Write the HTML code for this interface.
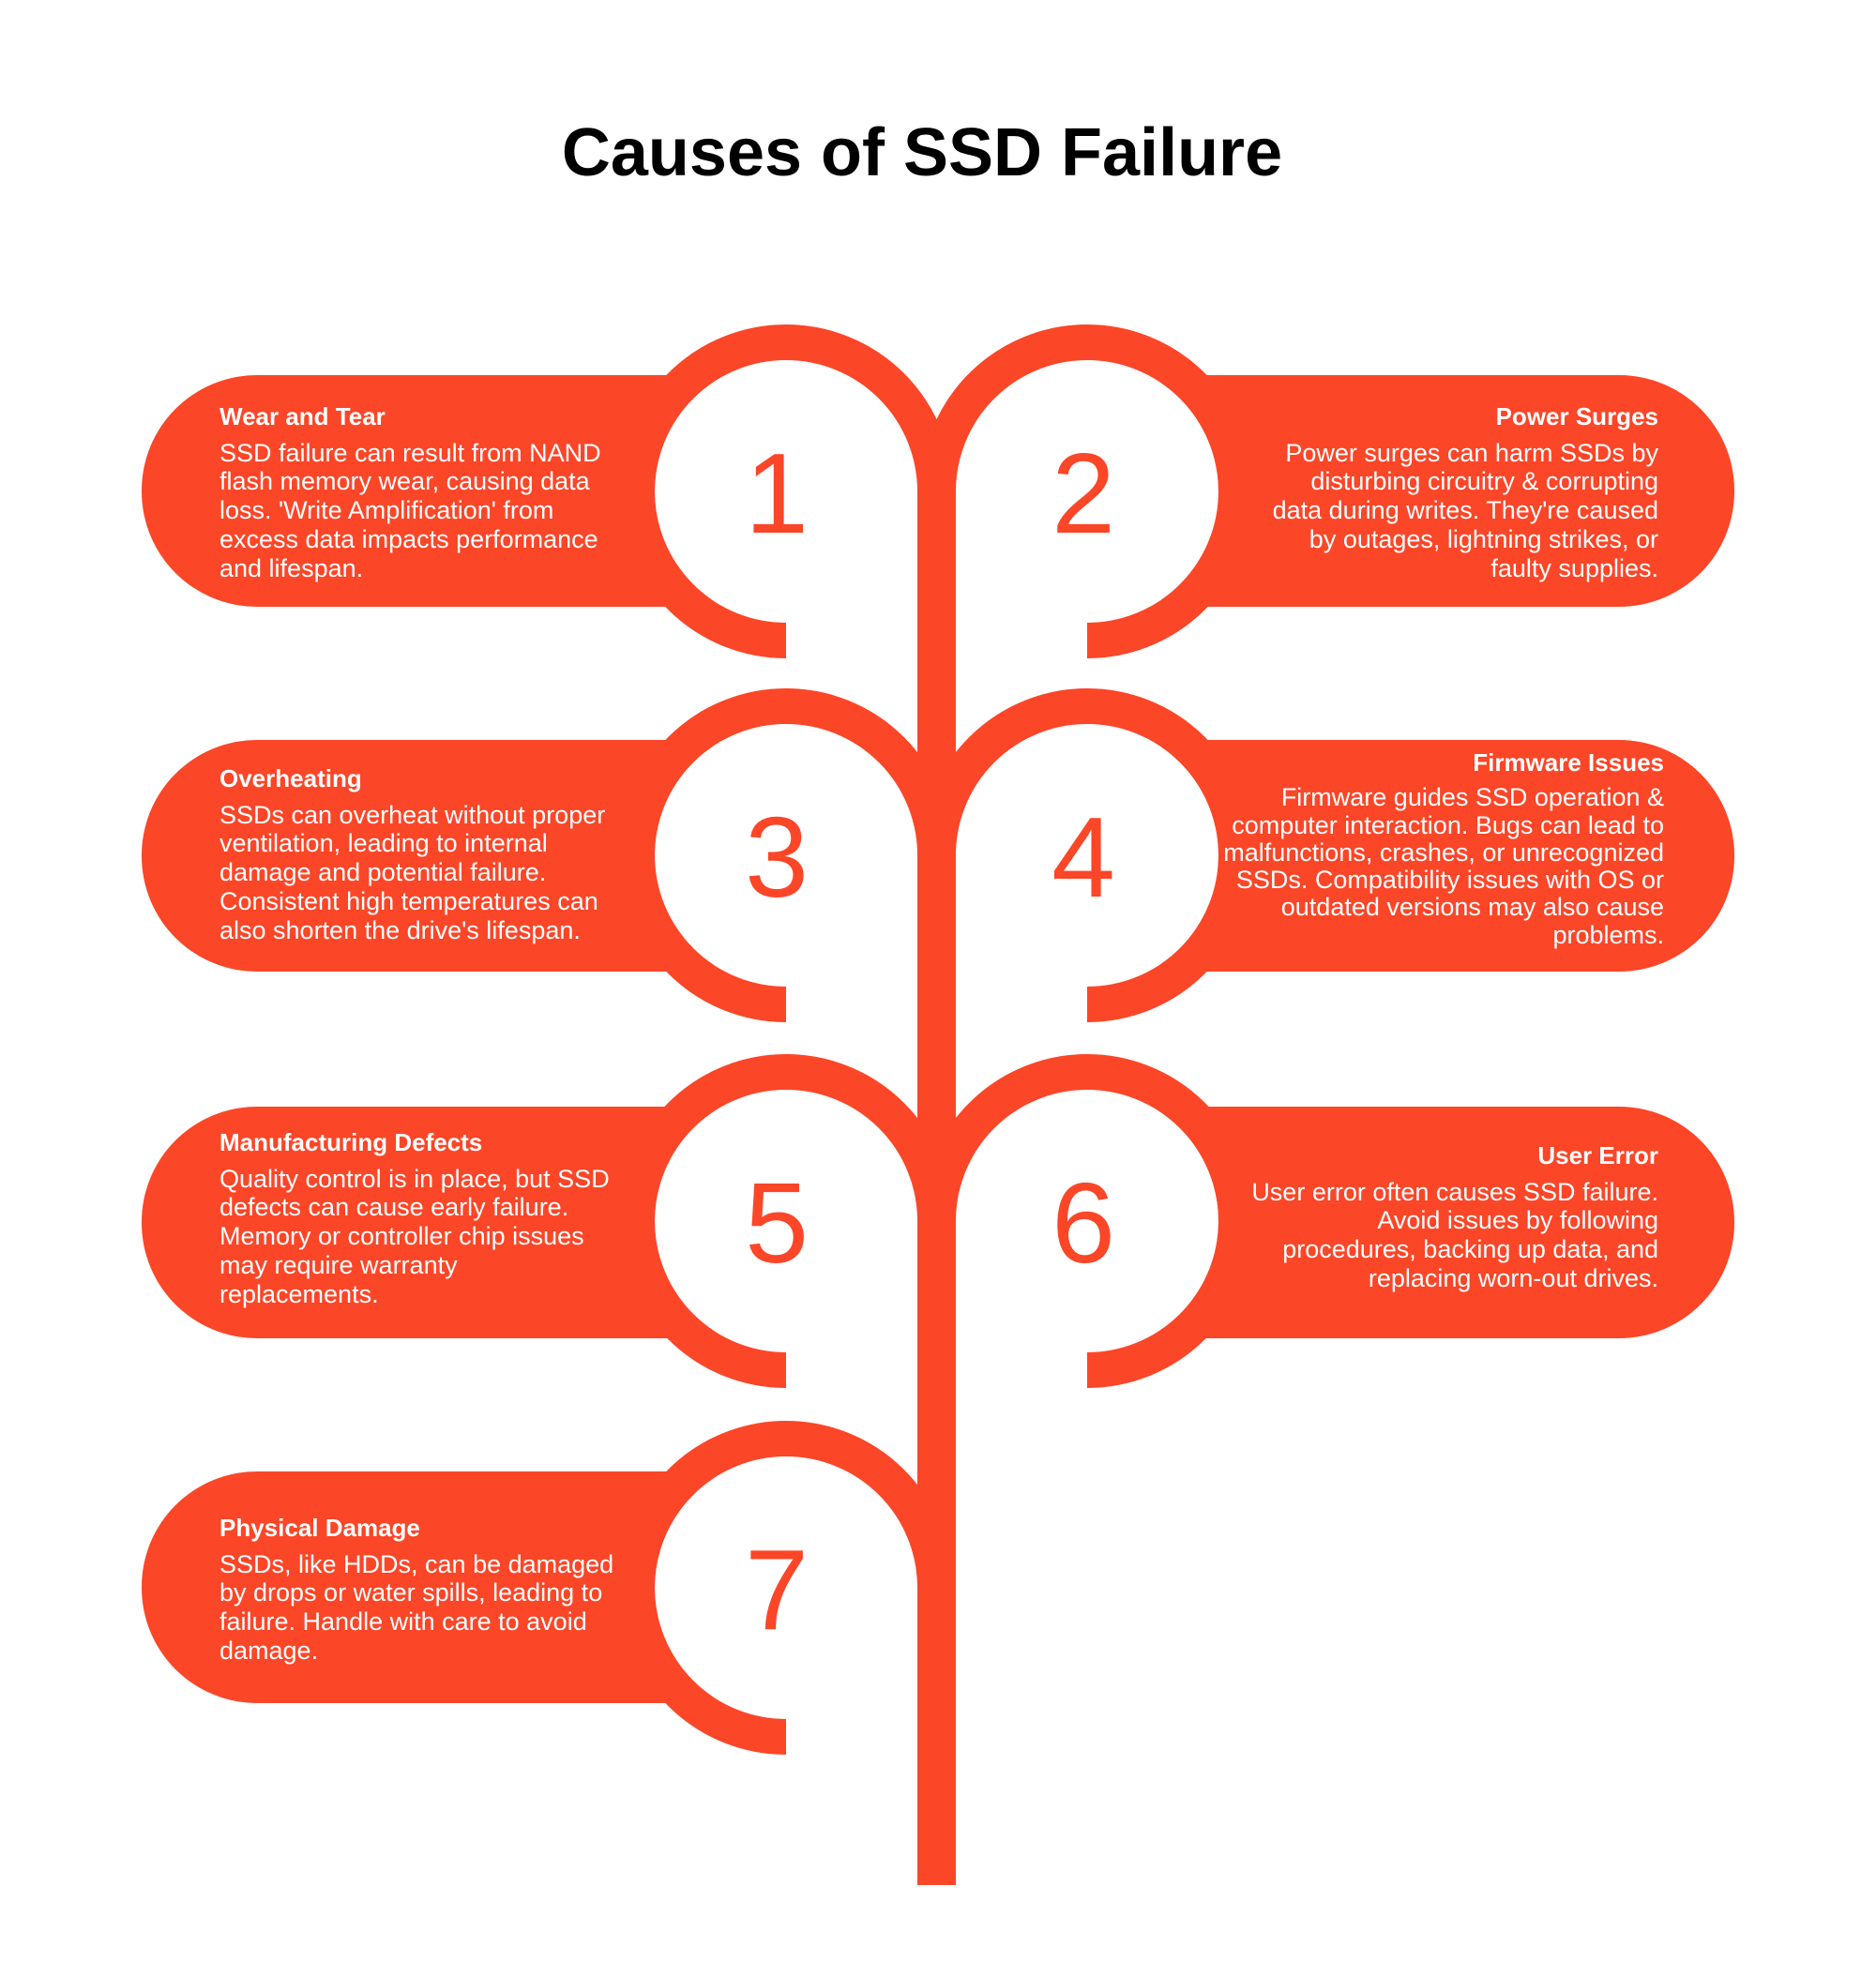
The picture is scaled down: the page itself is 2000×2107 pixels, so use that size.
<!DOCTYPE html>
<html><head><meta charset="utf-8"><style>
body{margin:0;background:#fff;}
#c{position:relative;width:2000px;height:2107px;overflow:hidden;font-family:"Liberation Sans",sans-serif;}
.t{position:absolute;color:#fff;font-size:27px;line-height:30.7px;white-space:nowrap;}
.t b{display:block;font-size:26px;margin-bottom:8px;}
.l{left:234px;text-align:left;}
.r{right:232px;text-align:right;}
</style></head><body><div id="c">
<svg width="2000" height="2107" style="position:absolute;left:0;top:0">
<g transform="translate(0,4)">
<g fill="#FC4628">
<rect x="151" y="396" width="687" height="247" rx="123"/>
<rect x="151" y="785" width="687" height="247" rx="123"/>
<rect x="151" y="1176" width="687" height="247" rx="123"/>
<rect x="151" y="1565" width="687" height="247" rx="123"/>
<rect x="1159" y="396" width="690" height="247" rx="123"/>
<rect x="1159" y="785" width="690" height="247" rx="123"/>
<rect x="1159" y="1176" width="690" height="247" rx="123"/>
</g>
<g fill="#fff">
<circle cx="838" cy="520" r="140"/><circle cx="1159" cy="520" r="140"/>
<circle cx="838" cy="908" r="140"/><circle cx="1159" cy="908" r="140"/>
<circle cx="838" cy="1298" r="140"/><circle cx="1159" cy="1298" r="140"/>
<circle cx="838" cy="1689" r="140"/>
</g>
<g fill="none" stroke="#FC4628" stroke-width="38">
<path d="M838 679 A159 159 0 1 1 997 520"/>
<path d="M1159 679 A159 159 0 1 0 1000 520"/>
<path d="M838 1067 A159 159 0 1 1 997 908"/>
<path d="M1159 1067 A159 159 0 1 0 1000 908"/>
<path d="M838 1457 A159 159 0 1 1 997 1298"/>
<path d="M1159 1457 A159 159 0 1 0 1000 1298"/>
<path d="M838 1848 A159 159 0 1 1 997 1689"/>
</g>
<rect x="978" y="520" width="41" height="1486" fill="#FC4628"/>
<g fill="#FC4628" font-family="Liberation Sans, sans-serif" font-size="122" text-anchor="middle">
<text x="828" y="564">1</text><text x="1155" y="564">2</text>
<text x="828" y="952">3</text><text x="1155" y="952">4</text>
<text x="828" y="1342">5</text><text x="1155" y="1342">6</text>
<text x="828" y="1733">7</text>
</g>
</g>
<text x="983" y="187" text-anchor="middle" font-family="Liberation Sans, sans-serif" font-weight="bold" font-size="72" fill="#000">Causes of SSD Failure</text>
</svg>
<div class="t l" style="top:429px"><b>Wear and Tear</b>SSD failure can result from NAND<br>flash memory wear, causing data<br>loss. 'Write Amplification' from<br>excess data impacts performance<br>and lifespan.</div>
<div class="t r" style="top:429px"><b>Power Surges</b>Power surges can harm SSDs by<br>disturbing circuitry &amp; corrupting<br>data during writes. They're caused<br>by outages, lightning strikes, or<br>faulty supplies.</div>
<div class="t l" style="top:815px"><b>Overheating</b>SSDs can overheat without proper<br>ventilation, leading to internal<br>damage and potential failure.<br>Consistent high temperatures can<br>also shorten the drive's lifespan.</div>
<div class="t r" style="top:799px;right:226px;line-height:29.3px"><b>Firmware Issues</b>Firmware guides SSD operation &amp;<br>computer interaction. Bugs can lead to<br>malfunctions, crashes, or unrecognized<br>SSDs. Compatibility issues with OS or<br>outdated versions may also cause<br>problems.</div>
<div class="t l" style="top:1203px"><b>Manufacturing Defects</b>Quality control is in place, but SSD<br>defects can cause early failure.<br>Memory or controller chip issues<br>may require warranty<br>replacements.</div>
<div class="t r" style="top:1217px"><b>User Error</b>User error often causes SSD failure.<br>Avoid issues by following<br>procedures, backing up data, and<br>replacing worn-out drives.</div>
<div class="t l" style="top:1614px"><b>Physical Damage</b>SSDs, like HDDs, can be damaged<br>by drops or water spills, leading to<br>failure. Handle with care to avoid<br>damage.</div>
</div></body></html>
